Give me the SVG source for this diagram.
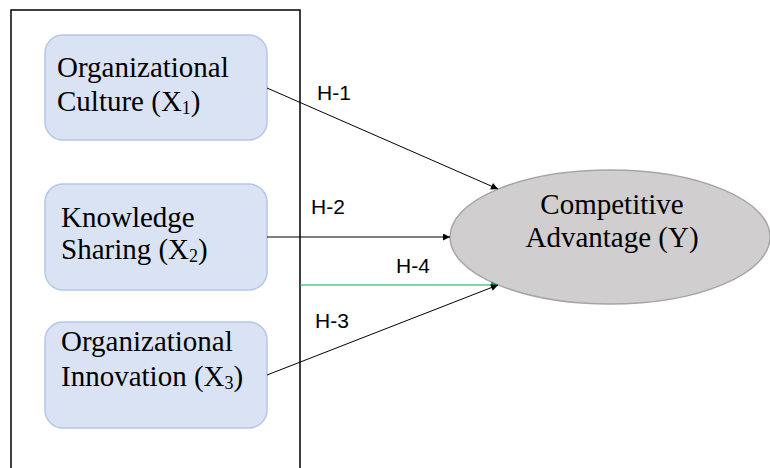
<svg xmlns="http://www.w3.org/2000/svg" width="770" height="468" viewBox="0 0 770 468">
<style>
.box{fill:#dae3f3;stroke:#b4c7e7;stroke-width:1.5}
.t{font-family:"Liberation Serif","Times New Roman",serif;font-size:29px;fill:#000}
.sub{font-size:18px}
.h{font-family:"Liberation Sans",Arial,sans-serif;font-size:21px;fill:#000}
.c{stroke:#000;stroke-width:1;fill:none}
</style>
<defs>
<marker id="a" viewBox="0 0 10 10" refX="10" refY="5" markerWidth="8" markerHeight="7" markerUnits="userSpaceOnUse" orient="auto"><path d="M0,0 L10,5 L0,10 z" fill="#000"/></marker>
<marker id="g" viewBox="0 0 10 10" refX="10" refY="5" markerWidth="8" markerHeight="7" markerUnits="userSpaceOnUse" orient="auto"><path d="M0,0 L10,5 L0,10 z" fill="#00b050"/></marker>
</defs>
<rect width="770" height="468" fill="#fff"/>
<path id="frame" d="M11,470 V10 H300 V470" fill="none" stroke="#000" stroke-width="1.5"/>
<g id="node-y">
<ellipse cx="610" cy="237" rx="160" ry="67" fill="#d0cece" stroke="#a6a6a6" stroke-width="1.5"/>
<text class="t" x="612" y="214" text-anchor="middle">Competitive</text>
<text class="t" x="612" y="247" text-anchor="middle">Advantage (Y)</text>
</g>
<g id="node-x1">
<rect class="box" x="45" y="35" width="222" height="105" rx="18"/>
<text class="t" x="57" y="77">Organizational</text>
<text class="t" x="57" y="111">Culture (X<tspan class="sub" dy="3">1</tspan><tspan dy="-3">)</tspan></text>
</g>
<g id="node-x2">
<rect class="box" x="45" y="184" width="222" height="106" rx="18"/>
<text class="t" x="61" y="227">Knowledge</text>
<text class="t" x="61" y="259">Sharing (X<tspan class="sub" dy="3">2</tspan><tspan dy="-3">)</tspan></text>
</g>
<g id="node-x3">
<rect class="box" x="45" y="322" width="222" height="106" rx="18"/>
<text class="t" x="61" y="351">Organizational</text>
<text class="t" x="61" y="386">Innovation (X<tspan class="sub" dy="3">3</tspan><tspan dy="-3">)</tspan></text>
</g>
<g id="connectors">
<line class="c" x1="267" y1="88" x2="498" y2="189" marker-end="url(#a)"/>
<line class="c" x1="267" y1="237" x2="450" y2="237" marker-end="url(#a)"/>
<line x1="300" y1="285" x2="498" y2="285" stroke="#00b050" stroke-width="1" marker-end="url(#g)"/>
<line class="c" x1="267" y1="375" x2="498" y2="285" marker-end="url(#a)"/>
<text class="h" x="317" y="100">H-1</text>
<text class="h" x="311" y="214">H-2</text>
<text class="h" x="396" y="273">H-4</text>
<text class="h" x="315" y="328">H-3</text>
</g>
</svg>
